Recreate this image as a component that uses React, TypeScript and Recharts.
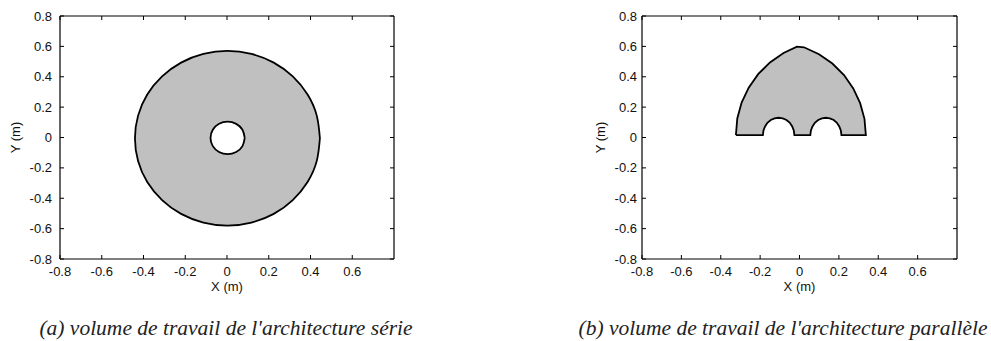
import { ComposedChart, Area, XAxis, YAxis, Label } from 'recharts'

const X_TICKS = [-0.8, -0.6, -0.4, -0.2, 0, 0.2, 0.4, 0.6]
const Y_TICKS = [-0.8, -0.6, -0.4, -0.2, 0, 0.2, 0.4, 0.6, 0.8]

// (a) série : contour extérieur
const SERIE_OUT_X = [0.445, 0.430, 0.386, 0.315, 0.224, 0.117, 0.002, -0.113, -0.220, -0.311, -0.382, -0.426, -0.441, -0.426, -0.382, -0.311, -0.220, -0.113, 0.002, 0.117, 0.224, 0.315, 0.386, 0.430, 0.445]
const SERIE_OUT_Y = [-0.005, 0.144, 0.283, 0.402, 0.493, 0.550, 0.570, 0.550, 0.493, 0.402, 0.283, 0.144, -0.005, -0.154, -0.293, -0.412, -0.503, -0.560, -0.580, -0.560, -0.503, -0.412, -0.293, -0.154, -0.005]

// (a) série : trou central
const SERIE_IN_X = [0.085, 0.074, 0.044, 0.003, -0.038, -0.068, -0.079, -0.068, -0.038, 0.003, 0.044, 0.074, 0.085]
const SERIE_IN_Y = [-0.003, 0.051, 0.090, 0.104, 0.090, 0.051, -0.003, -0.057, -0.096, -0.110, -0.096, -0.057, -0.003]

// (b) parallèle : contour complet
const PARA_X = [
  -0.323, -0.316, -0.294, -0.258, -0.210, -0.150, -0.081, -0.013,
  0.023, 0.099, 0.167, 0.226, 0.273, 0.308, 0.330, 0.337,
  0.213, 0.210, 0.202, 0.190, 0.174, 0.154, 0.134, 0.114, 0.095, 0.078, 0.066, 0.058, 0.055,
  -0.026, -0.029, -0.037, -0.049, -0.066, -0.085, -0.106, -0.127, -0.146, -0.163, -0.175, -0.183, -0.186,
  -0.323,
]
const PARA_Y = [
  0.016, 0.125, 0.230, 0.328, 0.417, 0.494, 0.556, 0.598,
  0.594, 0.548, 0.487, 0.411, 0.323, 0.226, 0.123, 0.016,
  0.016, 0.046, 0.073, 0.097, 0.115, 0.126, 0.130, 0.126, 0.115, 0.097, 0.073, 0.046, 0.016,
  0.016, 0.046, 0.073, 0.097, 0.115, 0.126, 0.130, 0.126, 0.115, 0.097, 0.073, 0.046, 0.016,
  0.016,
]

const zip = (xs: number[], ys: number[]) => xs.map((x, i) => ({ x, y: ys[i] }))

const serieOut = zip(SERIE_OUT_X, SERIE_OUT_Y)
const serieIn = zip(SERIE_IN_X, SERIE_IN_Y)
const para = zip(PARA_X, PARA_Y)

const FONT = '"Liberation Sans", Arial, sans-serif'
const tickStyle = { fontSize: 13, fill: '#111', fontFamily: FONT }
const NoTick = () => <g />

function Frame({ yGap, yWidth, yLabelX }: { yGap: number; yWidth: number; yLabelX: number }) {
  return [
    <XAxis key="xb" xAxisId={0} dataKey="x" type="number" domain={[-0.8, 0.8]} allowDataOverflow ticks={X_TICKS} interval={0}
      height={35} tickSize={-4} tickMargin={12} tick={tickStyle} stroke="#000" axisLine={{ stroke: '#000', strokeWidth: 1.2 }} tickLine={{ stroke: '#000' }}>
      <Label value="X (m)" position="insideBottom" offset={3} style={{ fontSize: 13, fill: '#111', fontFamily: FONT }} />
    </XAxis>,
    <XAxis key="xt" xAxisId="top" orientation="top" mirror dataKey="x" type="number" domain={[-0.8, 0.8]} allowDataOverflow ticks={X_TICKS} interval={0}
      tickSize={4} tick={NoTick} axisLine={{ stroke: '#000', strokeWidth: 1.2 }} tickLine={{ stroke: '#000' }} />,
    <YAxis key="yl" yAxisId={0} type="number" domain={[-0.8, 0.8]} allowDataOverflow ticks={Y_TICKS} interval={0}
      width={yWidth} tickSize={-4} tickMargin={yGap + 4} tick={tickStyle} axisLine={{ stroke: '#000', strokeWidth: 1.2 }} tickLine={{ stroke: '#000' }}>
      <Label value="Y (m)" angle={-90} position="insideLeft" offset={yLabelX} style={{ fontSize: 13, fill: '#111', fontFamily: FONT, textAnchor: 'middle' }} />
    </YAxis>,
    <YAxis key="yr" yAxisId="right" orientation="right" mirror type="number" domain={[-0.8, 0.8]} allowDataOverflow ticks={Y_TICKS} interval={0}
      tickSize={4} tick={NoTick} axisLine={{ stroke: '#000', strokeWidth: 1.2 }} tickLine={{ stroke: '#000' }} />,
  ]
}

const areaProps = {
  dataKey: 'y',
  fillOpacity: 1,
  stroke: '#000',
  strokeWidth: 1.8,
  dot: false,
  activeDot: false,
  isAnimationActive: false,
}

const captionStyle = {
  position: 'absolute' as const,
  top: 315,
  lineHeight: '26px',
  textAlign: 'center' as const,
  fontFamily: '"Liberation Serif", serif',
  fontStyle: 'italic',
  fontSize: 21.5,
  color: '#222',
  whiteSpace: 'nowrap' as const,
}

export default function App() {
  return (
    <div style={{ position: 'absolute', left: 0, top: 0, width: 991, height: 341, background: '#fff' }}>
      <div style={{ position: 'absolute', left: 0, top: 0 }}>
        <ComposedChart width={420} height={300} margin={{ top: 16, right: 26, bottom: 6, left: 0 }}>
          {Frame({ yGap: 8, yWidth: 60, yLabelX: 15 })}
          <Area {...areaProps} data={serieOut} type="natural" fill="#c0c0c0" baseValue={-0.005} />
          <Area {...areaProps} data={serieIn} type="natural" fill="#ffffff" baseValue={-0.003} />
        </ComposedChart>
      </div>
      <div style={{ position: 'absolute', left: 500, top: 0 }}>
        <ComposedChart width={491} height={300} margin={{ top: 16, right: 34, bottom: 6, left: 0 }}>
          {Frame({ yGap: 5, yWidth: 142, yLabelX: 100 })}
          <Area {...areaProps} data={para} type="linear" fill="#c0c0c0" baseValue={0.016} />
        </ComposedChart>
      </div>
      <div style={{ ...captionStyle, left: 0, width: 452 }}>(a) volume de travail de l'architecture série</div>
      <div style={{ ...captionStyle, left: 575, width: 416 }}>(b) volume de travail de l'architecture parallèle</div>
    </div>
  )
}
